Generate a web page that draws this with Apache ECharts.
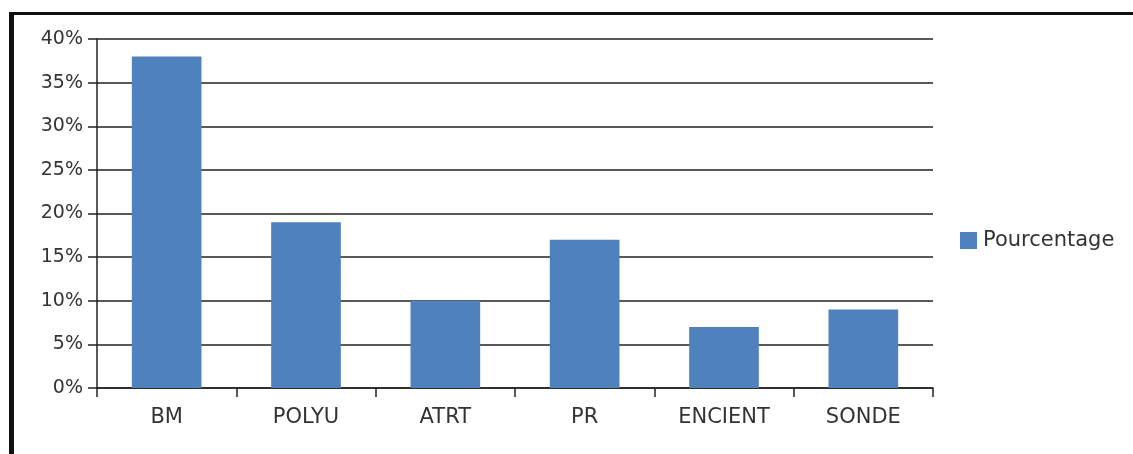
<!DOCTYPE html>
<html>
<head>
<meta charset="utf-8">
<script src="https://cdn.jsdelivr.net/npm/echarts@6/dist/echarts.min.js"></script>
<style>
  html, body { margin: 0; padding: 0; background: #fff; }
  #main { width: 1133px; height: 454px; }
</style>
</head>
<body>
<div id="main"></div>
<script>
var categories = ['BM', 'POLYU', 'ATRT', 'PR', 'ENCIENT', 'SONDE'];
var pourcentage = [38, 19, 10, 17, 7, 9];
var yTicks = [0, 5, 10, 15, 20, 25, 30, 35, 40];

var chart = echarts.init(document.getElementById('main'));

var option = {
    animation: false,
    textStyle: { fontFamily: 'DejaVu Sans' },
    graphic: [
        // le cadre noir en haut et a gauche
        { type: 'rect', shape: { x: 9, y: 12, width: 5, height: 442 }, style: { fill: '#111' } },
        { type: 'rect', shape: { x: 9, y: 12, width: 1124, height: 3 }, style: { fill: '#111' } }
    ],
    legend: {
        data: ['Pourcentage'],
        orient: 'vertical',
        left: 955,
        top: 225,
        itemWidth: 17,
        itemHeight: 17,
        icon: 'rect',
        textStyle: { color: '#333', fontSize: 21, padding: [0, 0, 0, 1] }
    },
    grid: {
        left: 97,
        top: 39,
        right: 200,
        bottom: 66
    },
    xAxis: {
        type: 'category',
        data: categories,
        axisLine: { lineStyle: { color: '#222', width: 1.5 } },
        axisTick: { show: true, length: 9, alignWithLabel: false, lineStyle: { color: '#222', width: 1.5 } },
        axisLabel: { color: '#333', fontSize: 21, margin: 19 }
    },
    yAxis: {
        type: 'value',
        min: 0,
        max: yTicks[yTicks.length - 1],
        interval: 5,
        axisLine: { show: true, lineStyle: { color: '#222', width: 1.5 } },
        axisTick: { show: true, length: 9, lineStyle: { color: '#222', width: 1.5 } },
        axisLabel: {
            color: '#333', fontSize: 19, margin: 14,
            formatter: function (v) { return v + '%'; }
        },
        splitLine: { show: true, lineStyle: { color: '#222', width: 1.5 } }
    },
    series: [
        {
            name: 'Pourcentage',
            type: 'bar',
            barWidth: '50%',
            itemStyle: { color: '#4F81BD' },
            data: pourcentage
        }
    ]
};

chart.setOption(option);
</script>
</body>
</html>
